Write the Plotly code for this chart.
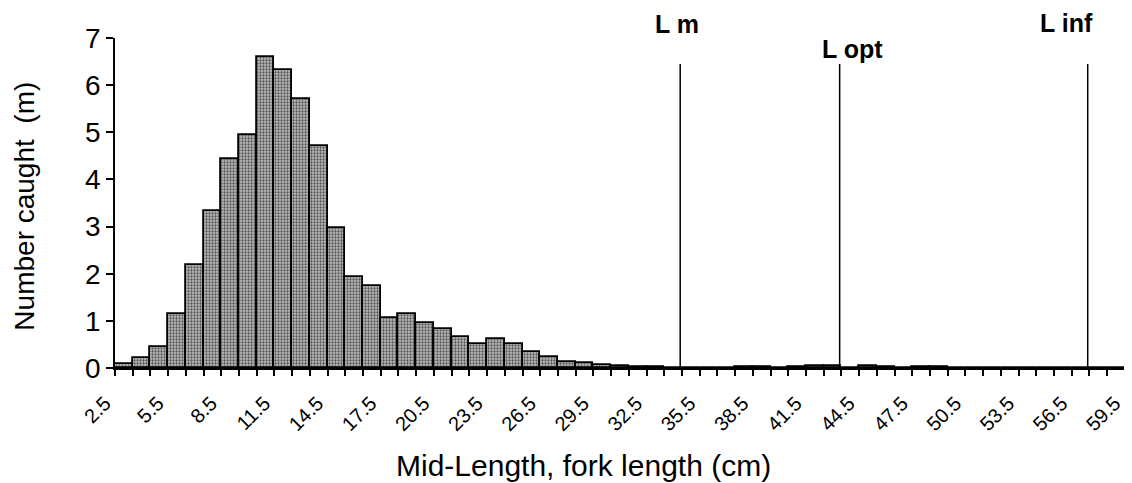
import plotly.graph_objects as go

mid_lengths = [2.5 + i for i in range(58)]
counts = [0.09, 0.21, 0.44, 1.14, 2.19, 3.34, 4.43, 4.94, 6.60, 6.32,
          5.70, 4.71, 2.96, 1.92, 1.73, 1.06, 1.14, 0.96, 0.83, 0.65,
          0.50, 0.62, 0.51, 0.35, 0.23, 0.13, 0.10, 0.07, 0.05, 0.03,
          0.02, 0.01, 0.0, 0.0, 0.01, 0.02, 0.02, 0.01, 0.02, 0.04,
          0.04, 0.01, 0.04, 0.02, 0.01, 0.02, 0.02, 0.01, 0.01, 0.0,
          0.01, 0.01, 0.0, 0.01, 0.01, 0.01, 0.0, 0.01]
ref_names = ["L m", "L opt", "L inf"]
ref_lengths = [34.4, 43.4, 57.4]
ref_line_top = 6.45
label_x = [34.2, 44.15, 56.2]
label_y = [7.29, 6.77, 7.31]

tick_vals = mid_lengths
tick_text = [f"{v:g}" if i % 3 == 0 else "" for i, v in enumerate(mid_lengths)]

FONT = "Liberation Sans, Arial, sans-serif"
Y_MAX = 7

fig = go.Figure()
fig.add_trace(go.Bar(
    x=mid_lengths, y=counts, width=1, offset=0,
    marker=dict(
        color="#b4b4b4",
        line=dict(color="black", width=1.8),
        pattern=dict(shape=".", fgcolor="#555555", bgcolor="#bdbdbd",
                     size=3, solidity=0.45, fillmode="replace"),
    ),
    showlegend=False,
))
for name, L in zip(ref_names, ref_lengths):
    fig.add_trace(go.Scatter(
        x=[L, L], y=[0, ref_line_top], mode="lines",
        line=dict(color="black", width=1.5), showlegend=False,
    ))
for name, x, y in zip(ref_names, label_x, label_y):
    fig.add_annotation(x=x, y=y / Y_MAX, xref="x", yref="paper", text=f"<b>{name}</b>",
                       xanchor="center", yanchor="middle",
                       showarrow=False, font=dict(family=FONT, size=25, color="black"))

# axis titles
fig.add_annotation(x=0.461, y=-0.294, xref="paper", yref="paper",
                   text="Mid-Length, fork length (cm)", showarrow=False,
                   xanchor="center", yanchor="middle",
                   font=dict(family=FONT, size=30, color="black"))
fig.add_annotation(x=-0.0885, y=0.492, xref="paper", yref="paper",
                   text="Number caught  (m)", showarrow=False, textangle=-90,
                   xanchor="center", yanchor="middle",
                   font=dict(family=FONT, size=28, color="black"))

fig.update_layout(
    width=1124, height=475,
    margin=dict(l=107, r=0, t=30, b=115),
    plot_bgcolor="white", paper_bgcolor="white",
    bargap=0,
    font=dict(family=FONT, color="black"),
)
fig.update_xaxes(
    range=[2.5, 59.9], tickmode="array", tickvals=tick_vals, ticktext=tick_text,
    tickangle=-45, ticks="outside", ticklen=6, tickwidth=1.5, tickcolor="black",
    showline=True, linecolor="black", linewidth=1.5, showgrid=False, zeroline=False,
    tickfont=dict(family=FONT, size=20), automargin=False, ticklabeloverflow="allow",
    ticklabelstandoff=8, ticklabelshift=-10,
)
fig.update_yaxes(
    range=[0, Y_MAX], dtick=1, ticks="outside", ticklen=7, tickwidth=1.5, tickcolor="black",
    showline=True, linecolor="black", linewidth=1.5, showgrid=False, zeroline=False,
    tickfont=dict(family=FONT, size=28), automargin=False,
)
fig.write_html("out.html")
